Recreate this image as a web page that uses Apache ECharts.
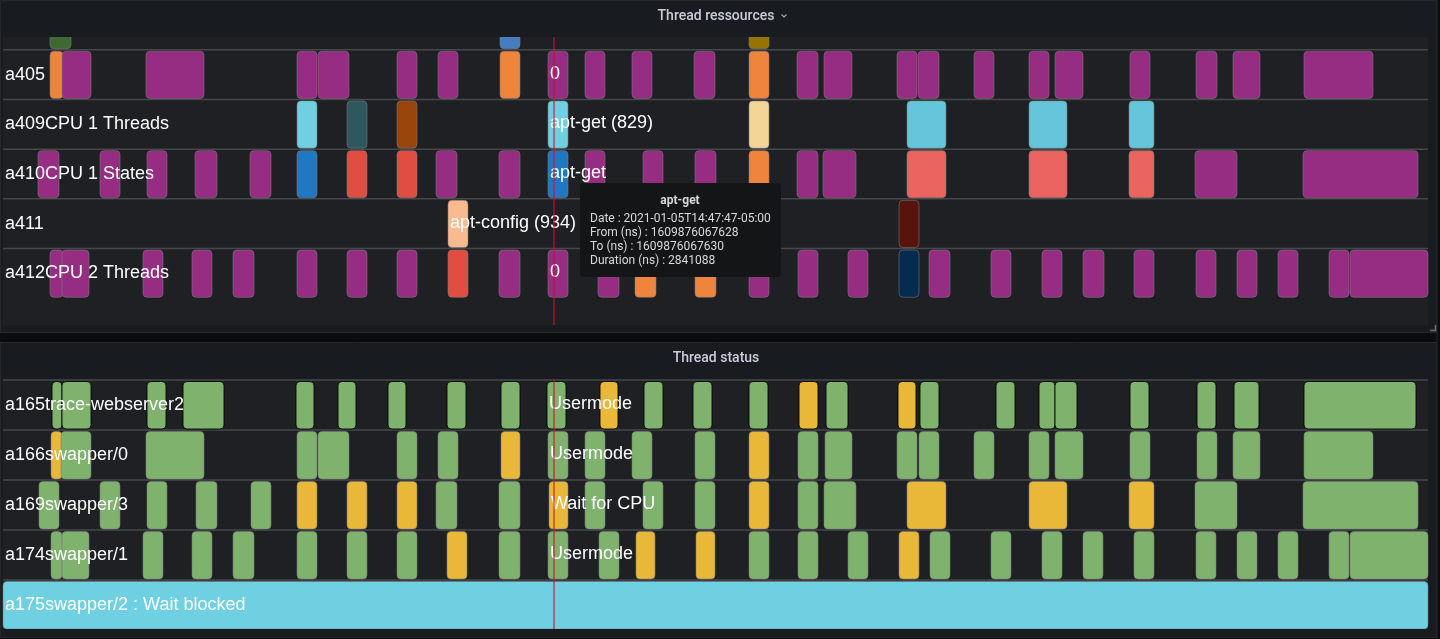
<!DOCTYPE html>
<html>
<head>
<meta charset="utf-8">
<script src="https://cdn.jsdelivr.net/npm/echarts@6/dist/echarts.min.js"></script>
<style>
html,body{margin:0;padding:0;background:#0b0c0e;}
#chart{width:1440px;height:639px;}
</style>
</head>
<body>
<div id="chart"></div>
<script>
// ---------- DATA ----------
// time axis span (arbitrary time units, visible window)
const timeMin = 3;
const timeMax = 1428;
const cursorTime = 554;

// Panel 1: Thread ressources (first row is scrolled partly out of view, last row is empty space)
const resourceRows = ['', 'a405', 'a409CPU 1 Threads', 'a410CPU 1 States', 'a411', 'a412CPU 2 Threads', ' '];
// [start, end, state, label]
const res_hidden = [[50,71,'darkgreen'],[500,520,'steel'],[749,769,'olive']];
const res_a405 = [[50,63,'orange'],[62,91,'purple'],[146,204,'purple'],[297,317,'purple'],[318,349,'purple'],[397,417,'purple'],[438,458,'purple'],[500,520,'orange'],[548,568,'purple','0'],[585,605,'purple'],[632,652,'purple'],[694,715,'purple'],[749,769,'orange'],[797,818,'purple'],[824,852,'purple'],[897,917,'purple'],[918,939,'purple'],[974,994,'purple'],[1029,1049,'purple'],[1055,1083,'purple'],[1130,1150,'purple'],[1196,1217,'purple'],[1233,1260,'purple'],[1304,1373,'purple']];
const res_a409 = [[297,317,'lightcyan'],[347,367,'darkteal'],[397,417,'brown'],[548,568,'lightcyan','apt-get (829)'],[749,769,'paleyellow'],[907,946,'skyblue'],[1029,1067,'skyblue'],[1129,1154,'skyblue']];
const res_a410 = [[38,59,'purple'],[100,120,'purple'],[147,167,'purple'],[195,217,'purple'],[250,271,'purple'],[297,317,'blue'],[347,367,'red'],[397,417,'red'],[436,457,'purple'],[499,520,'purple'],[548,568,'blue','apt-get'],[585,605,'purple'],[643,663,'purple'],[695,716,'purple'],[749,769,'orange'],[797,818,'purple'],[823,856,'purple'],[907,946,'salmon'],[1029,1067,'salmon'],[1129,1154,'salmon'],[1195,1237,'purple'],[1303,1418,'purple']];
const res_a411 = [[448,468,'peach','apt-config (934)'],[899,919,'darkred']];
const res_a412 = [[50,63,'purple'],[62,89,'purple'],[143,163,'purple'],[192,212,'purple'],[233,254,'purple'],[297,317,'purple'],[347,367,'purple'],[397,417,'purple'],[448,468,'red'],[499,520,'purple'],[548,568,'purple','0'],[598,619,'purple'],[635,656,'orange'],[695,716,'orange'],[749,769,'purple'],[798,818,'purple'],[848,868,'purple'],[899,919,'navy'],[929,950,'purple'],[991,1011,'purple'],[1042,1062,'purple'],[1083,1104,'purple'],[1134,1154,'purple'],[1196,1216,'purple'],[1237,1257,'purple'],[1278,1298,'purple'],[1329,1349,'purple'],[1350,1428,'purple']];

// Panel 2: Thread status
const statusRows = ['a165trace-webserver2', 'a166swapper/0', 'a169swapper/3', 'a174swapper/1', 'a175swapper/2 : Wait blocked'];
const st_a165 = [[52,62,'Usermode'],[62,91,'Usermode'],[147,166,'Usermode'],[183,224,'Usermode'],[296,314,'Usermode'],[338,356,'Usermode'],[388,406,'Usermode'],[447,466,'Usermode'],[501,520,'Usermode'],[547,566,'Usermode','Usermode'],[600,618,'Wait for CPU'],[644,663,'Usermode'],[693,712,'Usermode'],[749,768,'Usermode'],[799,818,'Wait for CPU'],[826,848,'Usermode'],[898,916,'Wait for CPU'],[920,939,'Usermode'],[996,1015,'Usermode'],[1039,1055,'Usermode'],[1055,1077,'Usermode'],[1130,1149,'Usermode'],[1197,1216,'Usermode'],[1234,1259,'Usermode'],[1304,1416,'Usermode']];
const st_a166 = [[51,62,'Wait for CPU'],[61,91,'Usermode'],[146,204,'Usermode'],[297,317,'Usermode'],[318,349,'Usermode'],[397,417,'Usermode'],[438,458,'Usermode'],[501,520,'Wait for CPU'],[548,568,'Usermode','Usermode'],[585,605,'Usermode'],[632,652,'Usermode'],[695,715,'Usermode'],[749,769,'Wait for CPU'],[798,818,'Usermode'],[825,852,'Usermode'],[897,917,'Usermode'],[919,939,'Usermode'],[974,994,'Usermode'],[1029,1049,'Usermode'],[1055,1083,'Usermode'],[1130,1150,'Usermode'],[1197,1217,'Usermode'],[1233,1260,'Usermode'],[1304,1373,'Usermode']];
const st_a169 = [[39,59,'Usermode'],[100,120,'Usermode'],[147,167,'Usermode'],[196,217,'Usermode'],[251,271,'Usermode'],[297,317,'Wait for CPU'],[347,367,'Wait for CPU'],[397,417,'Wait for CPU'],[436,457,'Usermode'],[499,520,'Usermode'],[549,568,'Wait for CPU','Wait for CPU'],[585,605,'Usermode'],[643,663,'Usermode'],[695,715,'Usermode'],[749,769,'Wait for CPU'],[798,818,'Usermode'],[824,856,'Usermode'],[907,946,'Wait for CPU'],[1029,1067,'Wait for CPU'],[1129,1154,'Wait for CPU'],[1195,1237,'Usermode'],[1303,1418,'Usermode']];
const st_a174 = [[51,62,'Usermode'],[62,89,'Usermode'],[143,163,'Usermode'],[192,212,'Usermode'],[233,254,'Usermode'],[297,317,'Usermode'],[347,367,'Usermode'],[397,417,'Usermode'],[447,467,'Wait for CPU'],[499,520,'Usermode'],[548,568,'Usermode','Usermode'],[599,619,'Usermode'],[636,655,'Wait for CPU'],[696,715,'Wait for CPU'],[749,769,'Usermode'],[798,818,'Usermode'],[848,868,'Usermode'],[899,919,'Wait for CPU'],[930,950,'Usermode'],[991,1011,'Usermode'],[1042,1062,'Usermode'],[1083,1103,'Usermode'],[1134,1154,'Usermode'],[1196,1216,'Usermode'],[1237,1257,'Usermode'],[1278,1298,'Usermode'],[1329,1349,'Usermode'],[1350,1428,'Usermode']];
const st_a175 = [[3,1428,'Wait blocked']];

// Tooltip content (hovered block)
const tooltipTitle = 'apt-get';
const tooltipLines = ['Date : 2021-01-05T14:47:47-05:00','From (ns) : 1609876067628','To (ns) : 1609876067630','Duration (ns) : 2841088'];

// ---------- STYLE MAPPINGS ----------
const stateColors = {
  purple:'#962d82', orange:'#ef843c', darkgreen:'#3f6833', steel:'#447ebc', olive:'#967302',
  lightcyan:'#6ed0e0', darkteal:'#2f575e', brown:'#99440a', paleyellow:'#f4d598', skyblue:'#65c5db',
  blue:'#1f78c1', red:'#e24d42', salmon:'#ea6460', peach:'#f9ba8f', darkred:'#58140c', navy:'#052b51',
  'Usermode':'#7eb26d', 'Wait for CPU':'#eab839', 'Wait blocked':'#6ed0e0'
};

function flatten(rowArrays){
  const out = [];
  rowArrays.forEach((arr, r) => arr.forEach(b => out.push({row:r, start:b[0], end:b[1], state:b[2], label:b[3]||''})));
  return out;
}
const resBlocks = flatten([res_hidden, res_a405, res_a409, res_a410, res_a411, res_a412, []]);
const stBlocks = flatten([st_a165, st_a166, st_a169, st_a174, st_a175]);

const LABEL_FONT = '18px "Liberation Sans", Arial, sans-serif';

function blockRenderer(blocks, darkBorderRow){
  return function(params, api){
    const b = blocks[params.dataIndex];
    const p0 = api.coord([api.value(0), api.value(2)]);
    const p1 = api.coord([api.value(1), api.value(2)]);
    const h = api.size([0,1])[1];
    const top = p0[1] - h/2;
    const children = [{
      type:'rect', z2:1,
      shape:{x:p0[0], y:top+1.5, width:Math.max(1,p1[0]-p0[0]), height:h-2.5, r:4},
      style:{fill:stateColors[b.state], stroke: b.row===darkBorderRow ? 'rgba(0,0,0,0.85)' : 'rgba(125,125,125,0.55)', lineWidth:1}
    }];
    if (b.label){
      children.push({type:'text', z2:20, style:{text:b.label, x:p0[0]+2, y:p0[1]-1, fill:'#ffffff', font:LABEL_FONT, verticalAlign:'middle', align:'left'}});
    }
    return {type:'group', children};
  };
}
function sepRenderer(params, api){
  const c = api.coord([timeMin, api.value(0)]);
  const h = api.size([0,1])[1];
  const y = c[1] - h/2;
  return {type:'line', shape:{x1:params.coordSys.x, y1:y, x2:params.coordSys.x+params.coordSys.width, y2:y}, style:{stroke:'#46474b', lineWidth:1.5}};
}
// cursor line, limited to the visible plot band of its panel
function cursorRenderer(yTop, yBottom){
  return function(params, api){
    const x = api.coord([api.value(0), 0])[0];
    return {type:'line', shape:{x1:x, y1:yTop, x2:x, y2:yBottom}, style:{stroke:'rgba(200,20,40,0.55)', lineWidth:2}};
  };
}

const chart = echarts.init(document.getElementById('chart'), null, {renderer:'canvas'});

const yAxisCommon = {
  type:'category', inverse:true, z:10,
  axisLine:{show:false}, axisTick:{show:false}, splitLine:{show:false},
  axisLabel:{inside:true, margin:2, interval:0, color:'#ffffff', fontSize:18, fontFamily:'"Liberation Sans", Arial, sans-serif'}
};

const PANEL_BG = '#181b1f', PLOT_BG = '#1f2024', GAP_BG = '#0b0c0e', BORDER = '#25272c';
const titleStyle = {fill:'#ccccdc', font:'500 14px Roboto, Inter, sans-serif', align:'center', verticalAlign:'middle'};

const option = {
  backgroundColor: GAP_BG,
  animation:false,
  grid:[
    {left:3, width:1425, top:-2, height:350},
    {left:3, width:1425, top:380, height:250}
  ],
  xAxis:[
    {type:'value', gridIndex:0, min:timeMin, max:timeMax, show:false},
    {type:'value', gridIndex:1, min:timeMin, max:timeMax, show:false}
  ],
  yAxis:[
    Object.assign({gridIndex:0, data:resourceRows}, yAxisCommon),
    Object.assign({gridIndex:1, data:statusRows}, yAxisCommon)
  ],
  series:[
    {type:'custom', xAxisIndex:0, yAxisIndex:0, z:1, renderItem:sepRenderer, encode:{y:0}, data:[[1],[2],[3],[4],[5]], silent:true},
    {type:'custom', xAxisIndex:1, yAxisIndex:1, z:1, renderItem:sepRenderer, encode:{y:0}, data:[[0],[1],[2],[3],[4]], silent:true},
    {type:'custom', name:'Thread ressources', xAxisIndex:0, yAxisIndex:0, z:2, renderItem:blockRenderer(resBlocks, -1), encode:{x:[0,1], y:2},
      data: resBlocks.map(b=>[b.start, b.end, b.row])},
    {type:'custom', name:'Thread status', xAxisIndex:1, yAxisIndex:1, z:2, renderItem:blockRenderer(stBlocks, 0), encode:{x:[0,1], y:2},
      data: stBlocks.map(b=>[b.start, b.end, b.row])},
    {type:'custom', xAxisIndex:0, yAxisIndex:0, z:3, renderItem:cursorRenderer(37, 325), encode:{x:0}, data:[[cursorTime]], silent:true},
    {type:'custom', xAxisIndex:1, yAxisIndex:1, z:3, renderItem:cursorRenderer(379, 629), encode:{x:0}, data:[[cursorTime]], silent:true}
  ],
  graphic:[
    // panel backgrounds (under series)
    {type:'rect', z:0, shape:{x:0.5, y:0.5, width:1436, height:332}, style:{fill:PANEL_BG, stroke:BORDER, lineWidth:1}},
    {type:'rect', z:0, shape:{x:3, y:37, width:1425, height:288}, style:{fill:PLOT_BG}},
    {type:'rect', z:0, shape:{x:0.5, y:342.5, width:1436, height:295}, style:{fill:PANEL_BG, stroke:BORDER, lineWidth:1}},
    {type:'rect', z:0, shape:{x:3, y:379, width:1425, height:250}, style:{fill:PLOT_BG}},
    // covers for overflow of scrolled rows
    {type:'rect', z:50, shape:{x:1, y:1, width:1435, height:36}, style:{fill:PANEL_BG}},
    {type:'rect', z:50, shape:{x:1, y:325, width:1435, height:7.5}, style:{fill:PANEL_BG}},
    {type:'rect', z:50, shape:{x:0, y:333, width:1440, height:9}, style:{fill:GAP_BG}},
    {type:'line', z:51, shape:{x1:0, y1:332.5, x2:1437, y2:332.5}, style:{stroke:BORDER, lineWidth:1}},
    {type:'line', z:51, shape:{x1:0, y1:342.5, x2:1437, y2:342.5}, style:{stroke:BORDER, lineWidth:1}},
    {type:'rect', z:50, shape:{x:1, y:343, width:1435, height:36}, style:{fill:PANEL_BG}},
    {type:'rect', z:50, shape:{x:1, y:629, width:1435, height:8}, style:{fill:PANEL_BG}},
    {type:'line', z:51, shape:{x1:1437, y1:0, x2:1437, y2:639}, style:{stroke:BORDER, lineWidth:1}},
    {type:'polyline', z:51, shape:{points:[[1435.5,325],[1435.5,330.5],[1430,330.5]]}, style:{stroke:'#6c6f75', lineWidth:1.5, fill:null}},
    // titles
    {type:'text', z:60, style:Object.assign({text:'Thread ressources', x:716, y:16}, titleStyle)},
    {type:'polyline', z:60, shape:{points:[[781.5,14.5],[784,17],[786.5,14.5]]}, style:{stroke:'#9fa7b3', lineWidth:1.2, fill:null}},
    {type:'text', z:60, style:Object.assign({text:'Thread status', x:716, y:358}, titleStyle)},
    // tooltip
    {type:'group', z:70, children:[
      {type:'rect', z:70, shape:{x:580, y:183, width:201, height:94, r:4}, style:{fill:'#141517'}},
      {type:'text', z:71, style:{text:tooltipTitle, x:680, y:200.5, fill:'#d8d9da', font:'bold 12px Roboto, Inter, sans-serif', align:'center', verticalAlign:'middle'}},
      ...tooltipLines.map((t,i)=>({type:'text', z:71, style:{text:t, x:590, y:218.5+i*14.2, fill:'#d8d9da', font:'12px Roboto, Inter, sans-serif', align:'left', verticalAlign:'middle'}}))
    ]}
  ]
};
chart.setOption(option);
</script>
</body>
</html>
